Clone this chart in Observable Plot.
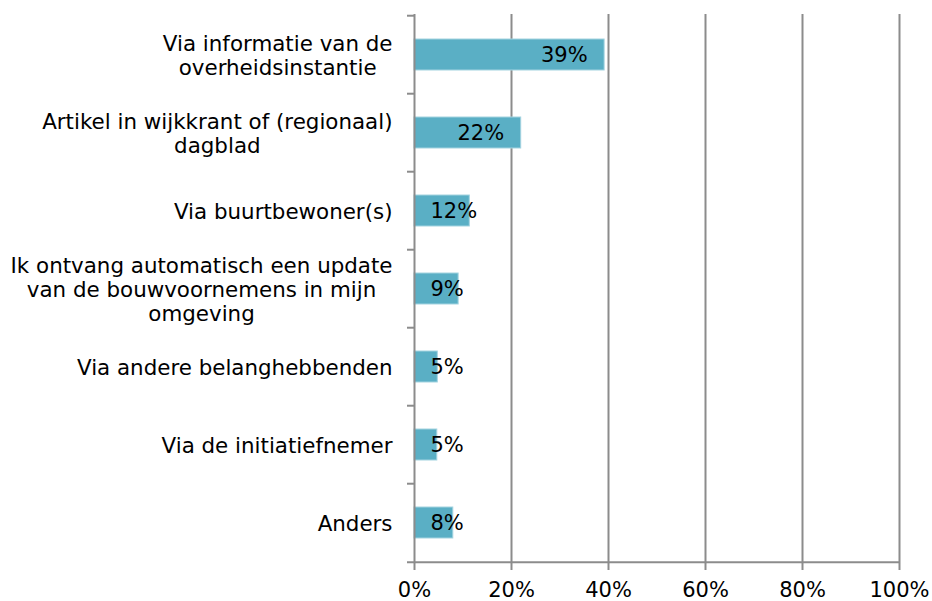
<!DOCTYPE html>
<html><head><meta charset="utf-8">
<script src="https://cdn.jsdelivr.net/npm/d3@7"></script>
<script src="https://cdn.jsdelivr.net/npm/@observablehq/plot@0.6"></script>
<style>html,body{margin:0;padding:0;background:#fff;} svg{display:block}</style>
</head><body><div id="chart"></div>
<script>
const categories = [
  "Via informatie van de\noverheidsinstantie",
  "Artikel in wijkkrant of (regionaal)\ndagblad",
  "Via buurtbewoner(s)",
  "Ik ontvang automatisch een update\nvan de bouwvoornemens in mijn\nomgeving",
  "Via andere belanghebbenden",
  "Via de initiatiefnemer",
  "Anders"
];
const values = [39.2, 22.0, 11.4, 9.1, 4.8, 4.7, 8.0];
const valueLabels = ["39%", "22%", "12%", "9%", "5%", "5%", "8%"];
const xTicks = [0, 20, 40, 60, 80, 100];
const gridTicks = [20, 40, 60, 80, 100];

const data = categories.map((c, i) => ({category: c, value: values[i], label: valueLabels[i]}));
const lastCategory = categories[categories.length - 1];

const W = 932, H = 601, mT = 14, mB = 37, mL = 414, mR = 33;
const step = (H - mT - mB) / categories.length;
const gray = "#8c8c8c";
const font = "'DejaVu Sans', Verdana, sans-serif";
const fs = 21;

const chart = Plot.plot({
  width: W, height: H,
  marginLeft: mL, marginRight: mR, marginTop: mT, marginBottom: mB,
  style: {fontFamily: font, fontSize: fs + "px", color: "#000", background: "#fff", overflow: "visible"},
  x: {domain: [0, 100], axis: null},
  y: {domain: categories, paddingInner: 0.6, paddingOuter: 0.3, axis: null},
  marks: [
    Plot.ruleX(gridTicks, {stroke: gray, strokeWidth: 2}),
    Plot.barX(data, {x: "value", y: "category", fill: "#5aafc5", stroke: "#a3d3e0", strokeWidth: 1}),
    Plot.ruleX([0], {stroke: gray, strokeWidth: 2}),
    Plot.ruleY(categories, {y: d => d, x1: 0, x2: 0, insetLeft: -7, dy: -step / 2, stroke: gray, strokeWidth: 2}),
    Plot.ruleY([lastCategory], {y: d => d, x1: 0, x2: 100, insetLeft: -7, dy: step / 2, stroke: gray, strokeWidth: 2}),
    Plot.axisX({ticks: xTicks, tickFormat: d => d + "%", tickSize: 6, tickPadding: 12, stroke: gray, strokeWidth: 2, strokeOpacity: 1, fill: "#000", fontSize: fs, label: null}),
    Plot.text(data.filter(d => d.value >= 15), {x: "value", y: "category", text: "label", textAnchor: "end", dx: -17, fontSize: fs, fill: "#000"}),
    Plot.text(data.filter(d => d.value < 15), {x: 0, y: "category", text: "label", textAnchor: "start", dx: 16, fontSize: fs, fill: "#000"}),
    Plot.text(data, {x: 0, y: "category", text: "category", textAnchor: "end", dx: -22, lineHeight: 24 / 21.4, fontSize: 21.4, fill: "#000"})
  ]
});
document.getElementById("chart").appendChild(chart);

// Center multi-line category labels within their right-aligned block
chart.querySelectorAll("text").forEach(t => {
  const spans = t.querySelectorAll("tspan");
  if (spans.length > 1) {
    let maxW = 0;
    spans.forEach(s => { maxW = Math.max(maxW, s.getComputedTextLength()); });
    t.setAttribute("text-anchor", "middle");
    spans.forEach(s => s.setAttribute("x", -maxW / 2));
  }
});
</script>
</body></html>
